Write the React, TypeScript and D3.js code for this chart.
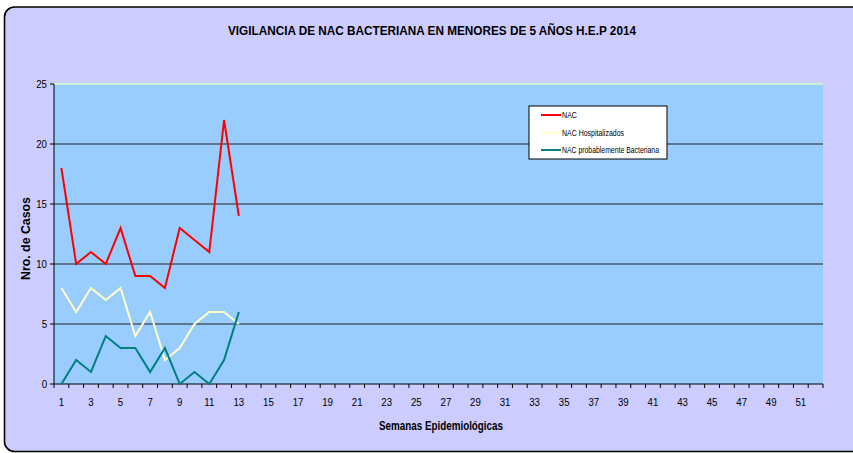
import React from "react";
import * as d3 from "d3";

const weeks: number[] = d3.range(1, 53);
const nac: number[] = [18, 10, 11, 10, 13, 9, 9, 8, 13, 12, 11, 22, 14];
const hospitalizados: number[] = [8, 6, 8, 7, 8, 4, 6, 2, 3, 5, 6, 6, 5];
const bacteriana: number[] = [0, 2, 1, 4, 3, 3, 1, 3, 0, 1, 0, 2, 6];
const yTicks: number[] = [0, 5, 10, 15, 20, 25];
const seriesNames: string[] = ["NAC", "NAC Hospitalizados", "NAC probablemente Bacteriana"];
const seriesColors: string[] = ["#ff0000", "#ffffcc", "#008080"];
const legendWidths: number[] = [15, 62, 97];

const W = 853, H = 453;
const left = 54, right = 823, top = 84, bottom = 384;
const FONT = "'Liberation Sans', Arial, sans-serif";
const SX = 0.84;

export default function App() {
  const x = d3.scaleBand<number>().domain(weeks).range([left, right]).paddingInner(0).paddingOuter(0);
  const y = d3.scaleLinear().domain([0, 25]).range([bottom, top]);
  const cx = (w: number) => (x(w) as number) + x.bandwidth() / 2;
  const line = d3.line<number>().x((_, i) => cx(i + 1)).y((d) => y(d));
  const data = [nac, hospitalizados, bacteriana];
  const tickXs = d3.range(0, 53).map((i) => left + i * x.bandwidth());

  return (
    <svg width={W} height={H} style={{ position: "absolute", left: 0, top: 0, fontFamily: FONT }}>
      <rect x={0} y={0} width={W} height={H} fill="#ffffff" />
      <rect x={4.5} y={7} width={880} height={444.5} rx={10} fill="#ccccff" stroke="#000" strokeWidth={1.6} />
      <text x={228} y={35} textLength={408} lengthAdjust="spacingAndGlyphs" fontSize={13} fontWeight="bold" fill="#000">
        VIGILANCIA DE NAC BACTERIANA EN MENORES DE 5 AÑOS H.E.P 2014
      </text>
      <rect x={left} y={top} width={right - left} height={bottom - top} fill="#99ccff" />
      <line x1={left} x2={right} y1={top} y2={top} stroke="#ccffcc" strokeWidth={1.5} />
      {yTicks.filter((t) => t > 0 && t < 25).map((t) => (
        <line key={t} x1={left} x2={right} y1={y(t)} y2={y(t)} stroke="#222" strokeWidth={1.2} />
      ))}
      <line x1={left} x2={left} y1={top} y2={bottom} stroke="#000" strokeWidth={1} />
      <line x1={left} x2={right} y1={bottom} y2={bottom} stroke="#000" strokeWidth={1.2} />
      {yTicks.map((t) => (
        <g key={t}>
          <line x1={left - 4} x2={left} y1={y(t)} y2={y(t)} stroke="#000" />
          <text transform={`translate(${left - 7},${y(t) + 4}) scale(${SX},1)`} textAnchor="end" fontSize={11.5} fill="#000">{t}</text>
        </g>
      ))}
      {tickXs.map((tx, i) => (
        <line key={i} x1={tx} x2={tx} y1={bottom} y2={bottom + 4} stroke="#000" />
      ))}
      {weeks.filter((w) => w % 2 === 1).map((w) => (
        <text key={w} transform={`translate(${cx(w)},406) scale(${SX},1)`} textAnchor="middle" fontSize={11.5} fill="#000">{w}</text>
      ))}
      <text x={379} y={430} textLength={124} lengthAdjust="spacingAndGlyphs" fontSize={12} fontWeight="bold" fill="#000">Semanas Epidemiológicas</text>
      <text transform={`translate(29.5,${280}) rotate(-90)`} textLength={83} lengthAdjust="spacingAndGlyphs" fontSize={12} fontWeight="bold" fill="#000">Nro. de Casos</text>
      {data.map((d, i) => (
        <path key={i} d={line(d) as string} fill="none" stroke={seriesColors[i]} strokeWidth={2} />
      ))}
      <rect x={529} y={106} width={138} height={53} fill="#ffffff" stroke="#000" strokeWidth={1} />
      {seriesNames.map((n, i) => (
        <g key={n}>
          <line x1={541} x2={561} y1={115 + i * 17.5} y2={115 + i * 17.5} stroke={seriesColors[i]} strokeWidth={2} />
          <text x={562} y={118 + i * 17.5} textLength={legendWidths[i]} lengthAdjust="spacingAndGlyphs" fontSize={9.5} fill="#000">{n}</text>
        </g>
      ))}
    </svg>
  );
}
